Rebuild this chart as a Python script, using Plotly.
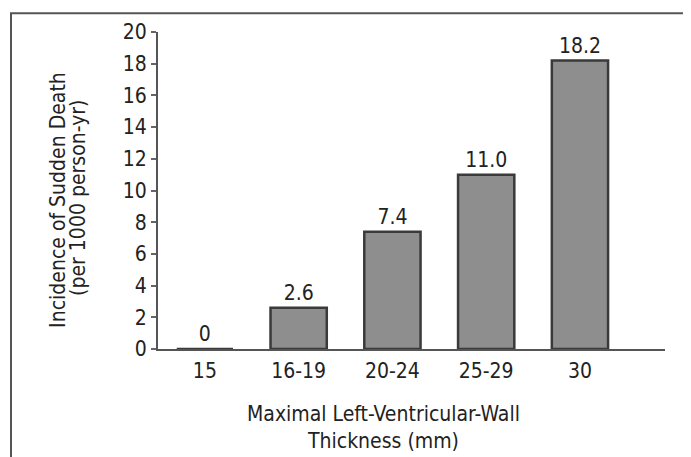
import plotly.graph_objects as go

categories = ["15", "16-19", "20-24", "25-29", "30"]
values = [0, 2.6, 7.4, 11.0, 18.2]
value_labels = ["0", "2.6", "7.4", "11.0", "18.2"]
y_ticks = [0, 2, 4, 6, 8, 10, 12, 14, 16, 18, 20]
y_title = ["Incidence of Sudden Death", "(per 1000 person-yr)"]
x_title = ["Maximal Left-Ventricular-Wall", "Thickness (mm)"]

FONT = "DejaVu Sans Condensed, Liberation Sans Narrow, sans-serif"
TXT = "#222222"
FS = 21

# figure sits at an 8px body offset inside the 691x457 window
W, H = 683, 449
L, R, T, B = 150, 26, 20, 108
pw, ph = W - L - R, H - T - B
OFF = 8


def px(x):  # page pixel -> paper x
    return (x - OFF - L) / pw


def py(y):  # page pixel -> paper y
    return (H - B - (y - OFF)) / ph


fig = go.Figure()
fig.add_trace(go.Bar(
    x=list(range(len(categories))),
    y=values,
    text=value_labels,
    textposition="outside",
    cliponaxis=False,
    textfont=dict(family=FONT, size=FS, color=TXT),
    marker=dict(color="#8e8e8e", line=dict(color="#3a3a3a", width=2.5)),
    width=0.6,
))

annotations = [
    dict(text=y_title[0], x=px(58), y=py(198), xref="paper", yref="paper",
         textangle=-90, showarrow=False, xanchor="center", yanchor="middle",
         font=dict(family=FONT, size=FS, color=TXT)),
    dict(text=y_title[1], x=px(78), y=py(196), xref="paper", yref="paper",
         textangle=-90, showarrow=False, xanchor="center", yanchor="middle",
         font=dict(family=FONT, size=FS, color=TXT)),
    dict(text=x_title[0], x=px(383), y=py(415), xref="paper", yref="paper",
         showarrow=False, xanchor="center", yanchor="middle",
         font=dict(family=FONT, size=FS, color=TXT)),
    dict(text=x_title[1], x=px(383), y=py(442), xref="paper", yref="paper",
         showarrow=False, xanchor="center", yanchor="middle",
         font=dict(family=FONT, size=FS, color=TXT)),
]

fig.update_layout(
    width=W, height=H,
    margin=dict(l=L, r=R, t=T, b=B, pad=0),
    plot_bgcolor="white", paper_bgcolor="white",
    showlegend=False,
    font=dict(family=FONT, size=FS, color=TXT),
    xaxis=dict(
        range=[-0.5, 4.907],
        tickmode="array",
        tickvals=list(range(len(categories))),
        ticktext=categories,
        showline=True, linecolor="#555555", linewidth=2,
        ticks="", showgrid=False, zeroline=False,
        ticklabelstandoff=2,
        tickfont=dict(family=FONT, size=FS, color=TXT),
    ),
    yaxis=dict(
        range=[0, 20],
        tickmode="array",
        tickvals=y_ticks,
        showline=True, linecolor="#555555", linewidth=2,
        ticks="outside", ticklen=5, tickwidth=2, tickcolor="#666666",
        showgrid=False, zeroline=False,
        tickfont=dict(family=FONT, size=FS, color=TXT),
    ),
    annotations=annotations,
    shapes=[
        dict(type="path", xref="paper", yref="paper",
             path=f"M {px(11)},{py(470)} L {px(11)},{py(9)} L {px(689)},{py(9)} L {px(689)},{py(470)}",
             line=dict(color="#555555", width=2)),
    ],
)

fig.write_html("out.html")
